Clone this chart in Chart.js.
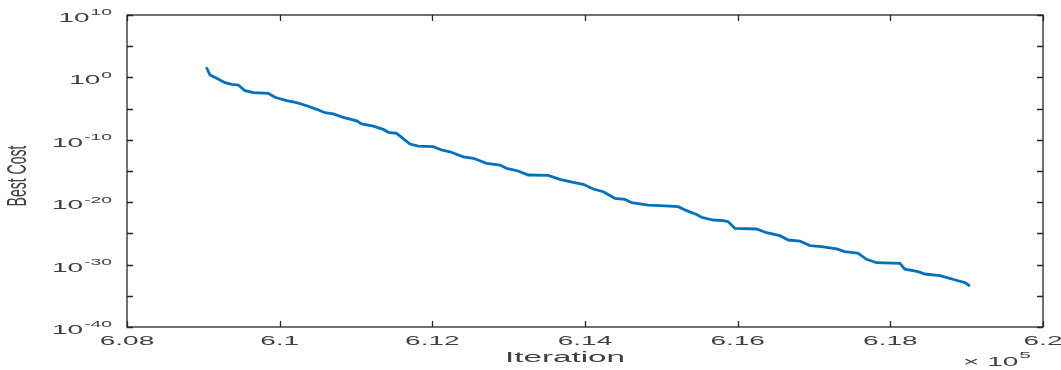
<!DOCTYPE html>
<html>
<head>
<meta charset="utf-8">
<script src="https://cdn.jsdelivr.net/npm/chart.js@4/dist/chart.umd.min.js"></script>
<style>
  html, body { margin: 0; padding: 0; background: #ffffff; }
  #wrap { width: 1061px; height: 370px; position: relative; }
</style>
</head>
<body>
<div id="wrap"><canvas id="cost-chart"></canvas></div>
<script>
// Best cost per iteration
const iterations = [
  609040, 609087, 609175, 609284, 609371, 609458, 609546, 609654, 609851, 609938,
  610092, 610223, 610354, 610485, 610593, 610702, 610833, 611009, 611074, 611226,
  611357, 611423, 611532, 611598, 611707, 611815, 612012, 612122, 612231, 612405,
  612536, 612711, 612886, 612973, 613125, 613256, 613518, 613671, 613846, 613977,
  614108, 614239, 614392, 614523, 614611, 614828, 614981, 615221, 615331, 615462,
  615527, 615679, 615810, 615876, 615964, 616248, 616379, 616553, 616662, 616815,
  616946, 617099, 617296, 617404, 617513, 617579, 617689, 617819, 618125, 618190,
  618365, 618452, 618649, 618780, 618888, 618976, 619042
];
const bestCost = [
  4.2e1, 2.4e0, 7.2e-1, 1.4e-1, 7.8e-2, 6.1e-2, 7.4e-3, 3.5e-3, 2.8e-3, 6.5e-4,
  1.9e-4, 8.9e-5, 2.9e-5, 7.7e-6, 2.2e-6, 1.4e-6, 4.0e-7, 1.1e-7, 3.4e-8, 1.6e-8,
  4.8e-9, 1.6e-9, 1.1e-9, 2.5e-10, 2.1e-11, 1.0e-11, 7.8e-12, 2.3e-12, 1.2e-12, 1.9e-13,
  1.1e-13, 1.7e-14, 9.2e-15, 2.7e-15, 1.0e-15, 2.3e-16, 2.0e-16, 4.7e-17, 1.5e-17, 7.4e-18,
  1.3e-18, 4.8e-19, 4.2e-20, 2.9e-20, 8.3e-21, 3.5e-21, 2.8e-21, 1.9e-21, 4.4e-22, 1.1e-22,
  3.8e-23, 1.4e-23, 1.1e-23, 7.4e-24, 6.6e-25, 5.1e-25, 1.3e-25, 4.3e-26, 8.7e-27, 6.0e-27,
  1.1e-27, 7.4e-28, 3.2e-28, 1.2e-28, 8.1e-29, 6.5e-29, 7.1e-30, 2.0e-30, 1.6e-30, 1.8e-31,
  7.2e-32, 3.1e-32, 1.7e-32, 6.3e-33, 2.6e-33, 1.3e-33, 3.7e-34
];

const xTicks = [608000, 610000, 612000, 614000, 616000, 618000, 620000];
const xTickLabels = ['6.08', '6.1', '6.12', '6.14', '6.16', '6.18', '6.2'];
const yTicks = [1e10, 1e0, 1e-10, 1e-20, 1e-30, 1e-40];
const yTickExponents = ['10', '0', '-10', '-20', '-30', '-40'];
const yTickMarks = [1e10, 1e5, 1e0, 1e-5, 1e-10, 1e-15, 1e-20, 1e-25, 1e-30, 1e-35, 1e-40];

const xLabel = 'Iteration';
const yLabel = 'Best Cost';
const xMultiplierExp = '5';

// the reference is stretched wide, so text is drawn scaled
const SX = 1.75;
const SY = 0.8;
const FONT = '"Liberation Sans", Arial, sans-serif';
const TEXT_COLOR = '#404040';
const AXIS_COLOR = '#262626';

function stretchText(ctx, text, x, y, size, align) {
  ctx.save();
  ctx.translate(x, y);
  ctx.scale(SX, SY);
  ctx.font = size + 'px ' + FONT;
  ctx.textAlign = align;
  ctx.textBaseline = 'middle';
  ctx.fillText(text, 0, 0);
  ctx.restore();
}

function textWidth(ctx, text, size) {
  ctx.save();
  ctx.font = size + 'px ' + FONT;
  const w = ctx.measureText(text).width * SX;
  ctx.restore();
  return w;
}

const matlabAxes = {
  id: 'matlabAxes',
  afterDraw(chart) {
    const ctx = chart.ctx;
    const area = chart.chartArea;
    const xs = chart.scales.x;
    const ys = chart.scales.y;

    ctx.save();
    ctx.strokeStyle = AXIS_COLOR;
    ctx.lineWidth = 1.3;
    ctx.strokeRect(area.left, area.top, area.right - area.left, area.bottom - area.top);

    // inner tick marks on all four sides
    ctx.beginPath();
    xTicks.forEach(v => {
      const px = Math.round(xs.getPixelForValue(v)) + 0.5;
      ctx.moveTo(px, area.bottom); ctx.lineTo(px, area.bottom - 6);
      ctx.moveTo(px, area.top); ctx.lineTo(px, area.top + 6);
    });
    yTickMarks.forEach(v => {
      const py = Math.round(ys.getPixelForValue(v)) + 0.5;
      ctx.moveTo(area.left, py); ctx.lineTo(area.left + 6, py);
      ctx.moveTo(area.right, py); ctx.lineTo(area.right - 6, py);
    });
    ctx.stroke();

    ctx.fillStyle = TEXT_COLOR;

    // x tick labels
    xTicks.forEach((v, i) => {
      stretchText(ctx, xTickLabels[i], xs.getPixelForValue(v), area.bottom + 14, 16, 'center');
    });

    // y tick labels 10^n
    const right = area.left - 15;
    yTicks.forEach((v, i) => {
      const py = ys.getPixelForValue(v);
      const exp = yTickExponents[i];
      const ew = textWidth(ctx, exp, 11);
      stretchText(ctx, exp, right, py - 2, 11, 'right');
      stretchText(ctx, '10', right - ew - 1, py + 3.5, 16, 'right');
    });

    // axis titles
    stretchText(ctx, xLabel, (area.left + area.right) / 2 - 20, area.bottom + 31, 19, 'center');

    ctx.save();
    ctx.translate(18, (area.top + area.bottom) / 2 + 5);
    ctx.scale(SX * 0.9, SY);
    ctx.rotate(-Math.PI / 2);
    ctx.font = '17.6px ' + FONT;
    ctx.textAlign = 'center';
    ctx.textBaseline = 'middle';
    ctx.fillText(yLabel, 0, 0);
    ctx.restore();

    // x10^5 multiplier
    const mx = area.right - 12;
    const ew5 = textWidth(ctx, xMultiplierExp, 12);
    stretchText(ctx, xMultiplierExp, mx, area.bottom + 28, 12, 'right');
    stretchText(ctx, '\u00d7 10', mx - ew5 - 1, area.bottom + 35, 16, 'right');

    ctx.restore();
  }
};

const canvas = document.getElementById('cost-chart');
canvas.width = 1061;
canvas.height = 370;

new Chart(canvas, {
  type: 'line',
  data: {
    datasets: [{
      label: yLabel,
      data: iterations.map((x, i) => ({ x: x, y: bestCost[i] })),
      borderColor: '#0072bd',
      borderWidth: 2.8,
      pointRadius: 0,
      tension: 0,
      fill: false
    }]
  },
  options: {
    responsive: false,
    animation: false,
    devicePixelRatio: 1,
    layout: { padding: { left: 127, top: 15, right: 18, bottom: 43 } },
    plugins: {
      legend: { display: false },
      tooltip: { enabled: false }
    },
    scales: {
      x: {
        type: 'linear',
        display: false,
        min: 608000,
        max: 620000
      },
      y: {
        type: 'logarithmic',
        display: false,
        min: 1e-40,
        max: 1e10
      }
    }
  },
  plugins: [matlabAxes]
});
</script>
</body>
</html>
